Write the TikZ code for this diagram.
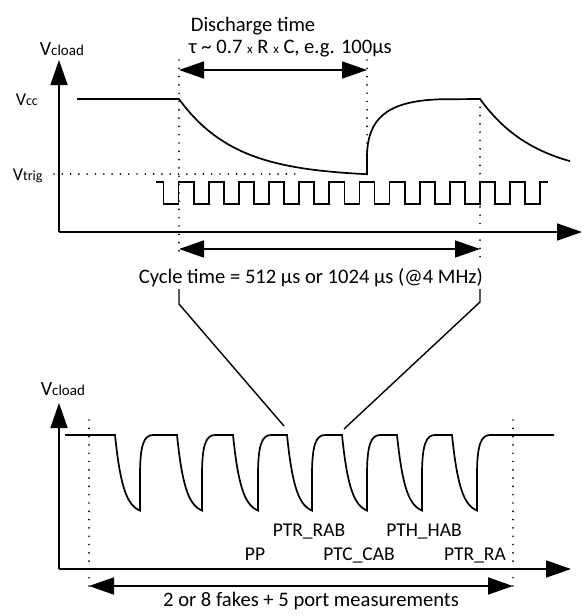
\documentclass[tikz,border=0pt]{standalone}
\usepackage{fontspec}
\setmainfont{Carlito}
\usetikzlibrary{arrows.meta}
\newcommand{\VA}[1]{{\fontsize{20}{24}\selectfont V}{\fontsize{15}{18}\selectfont #1}}
\newcommand{\VB}[1]{{\fontsize{18}{22}\selectfont V}{\fontsize{14}{17}\selectfont #1}}
\newcommand{\sx}{{\fontsize{13}{15}\selectfont x}}
\begin{document}
\begin{tikzpicture}[x=1pt,y=-1pt,line width=1.7pt,line join=miter,
  tip/.tip={Triangle[length=25pt,width=17pt]},
  ar/.style={-tip},
  dar/.style={tip-tip},
  dotl/.style={line width=1.9pt,dash pattern=on 0pt off 8.3pt,line cap=round},
  txt/.style={inner sep=0pt,font=\fontsize{20.6}{24}\selectfont},
  ptxt/.style={inner sep=0pt,font=\fontsize{19.5}{23}\selectfont,anchor=base}]
\useasboundingbox (0,0) rectangle (583,616);
% ---------- top graph ----------
\draw[ar] (59,232) -- (59,60);
\draw[ar] (59,232) -- (582,232);
\node[txt,anchor=base west] (vcl1) at (39,55) {\VA{cload}};
\node[txt,anchor=base west] (vcc) at (15,105) {\VB{cc}};
\node[txt,anchor=base west] (vtr) at (12,180) {\VB{trig}};
% dotted guides
\draw[dotl] (54,174) -- (300,174);
\draw[dotl] (179,60) -- (179,258);
\draw[dotl] (367,60) -- (367,174);
\draw[dotl] (480,99) -- (480,258);
% waveform
\draw (77,99) -- (179,99)
  -- plot[domain=179:367,samples=60,variable=\t] (\t,{99+78*(1-exp(-(\t-179)/56.5))})
  -- (367,155) .. controls (368,120) and (385,101) .. (440,99.3) -- (480,99)
  -- plot[domain=480:570,samples=40,variable=\t] (\t,{99+78*(1-exp(-(\t-480)/56.5))});
% clock
\draw (156,182) \foreach \k in {0,...,12} {
   -- ({163.5+30.15*\k},182) -- ({163.5+30.15*\k},204)
   -- ({178.5+30.15*\k},204) -- ({178.5+30.15*\k},182) } -- (548,182);
% discharge
\draw[dar] (179,70) -- (367,70);
\node[txt,anchor=base west] (dis1) at (190,31.5) {Discharge time};
\node[txt,anchor=base west] (dis2) at (188,53.5) {τ \textasciitilde\ 0.7 \sx\ R \sx\ C, e.g. 100µs};
% cycle
\draw[dar] (179,249) -- (480,249);
\node[txt,anchor=base west] (cyc) at (138,283.5) {Cycle time = 512 µs or 1024 µs (@4 MHz)};
\coordinate (l1) at (179,289);
\coordinate (l2) at (179,304);
\coordinate (l3) at (284,426);
\coordinate (r1) at (480,289);
\coordinate (r2) at (480,302);
\coordinate (r3) at (344,429);
\draw[line width=1.4pt] (l1) -- (l2) -- (l3);
\draw[line width=1.4pt] (r1) -- (r2) -- (r3);
% ---------- bottom graph ----------
\draw[ar] (59,569) -- (59,403);
\draw[ar] (59,569) -- (571,569);
\node[txt,anchor=base west] (vcl2) at (40,395) {\VA{cload}};
\draw[dotl] (89,420) -- (89,588);
\draw[dotl] (513,420) -- (513,588);
\draw (65,435) \foreach \d/\n in {115/177,177/233,233/287,287/342,342/397,397/452,452/554} {
   -- (\d,435)
   -- plot[domain=0:25,samples=25,variable=\t] ({\d+\t},{435+79*(1-exp(-\t/8))})
   -- ({\d+25},475) .. controls ({\d+25},445) and ({\d+29},435) .. ({\d+38},435)
   -- (\n,435) };
\node[ptxt] (p1) at (309,536) {PTR\_RAB};
\node[ptxt] (p2) at (424,536) {PTH\_HAB};
\node[ptxt] (p3) at (255,560) {PP};
\node[ptxt] (p4) at (359,560) {PTC\_CAB};
\node[ptxt] (p5) at (475,560) {PTR\_RA};
\draw[dar] (89,586) -- (513,586);
\node[txt,anchor=base] (meas) at (311,606) {2 or 8 fakes + 5 port measurements};
\end{tikzpicture}
\end{document}
